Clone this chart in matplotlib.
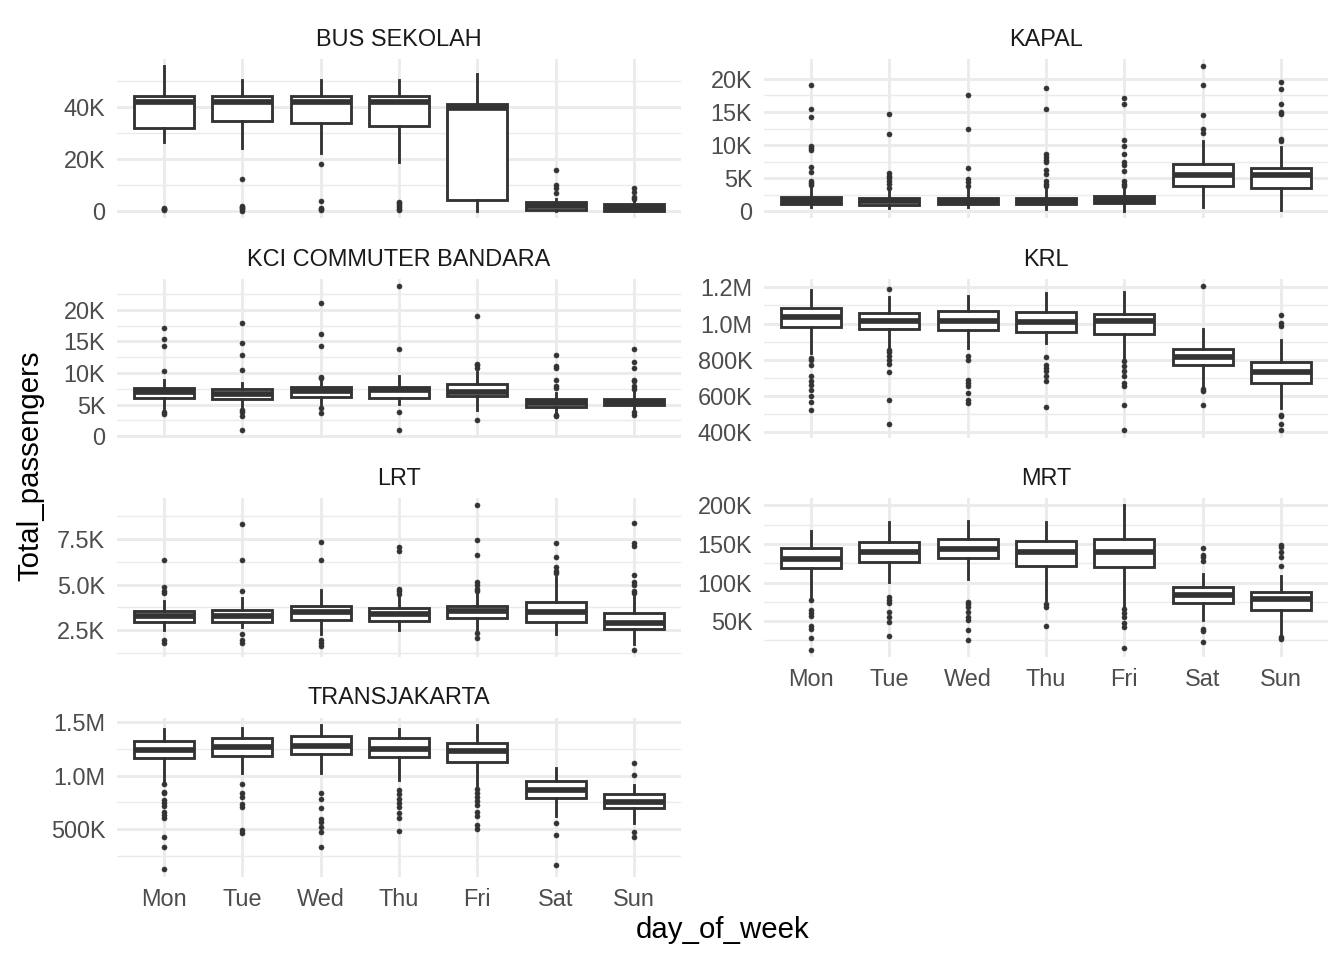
import matplotlib
matplotlib.use('Agg')
import matplotlib.pyplot as plt
from matplotlib.transforms import offset_copy

plt.rcParams['font.family'] = ['Liberation Sans', 'DejaVu Sans']

days = ['Mon', 'Tue', 'Wed', 'Thu', 'Fri', 'Sat', 'Sun']

# all values in thousands of passengers
# per day: (whisker low, q1, median, q3, whisker high)
bus_stats = [(26.7, 32.1, 41.9, 44.5, 55.9), (24.4, 34.7, 41.9, 44.5, 50.6),
             (22.5, 34.1, 41.9, 44.4, 50.6), (18.7, 32.9, 42.0, 44.3, 50.6),
             (0.0, 4.0, 39.6, 41.4, 52.8), (0.0, 0.4, 1.8, 3.2, 4.5),
             (0.0, 0.1, 1.2, 2.6, 3.9)]
bus_out = [[0.2, 0.5, 0.8, 1.2], [0.1, 0.5, 1.0, 1.5, 2.0, 12.4],
           [0.3, 0.8, 1.2, 3.6, 18.1], [0.2, 0.8, 1.5, 2.2, 3.0, 3.5],
           [], [6.7, 8.9, 10.1, 15.7], [4.5, 5.2, 7.4, 9.0]]

kapal_stats = [(0.6, 1.1, 1.6, 2.2, 3.7), (0.5, 0.95, 1.5, 2.0, 3.4),
               (0.6, 1.05, 1.6, 2.05, 3.4), (0.3, 1.05, 1.6, 2.1, 3.6),
               (0.1, 1.2, 1.8, 2.35, 3.8), (0.7, 3.85, 5.45, 7.1, 10.6),
               (0.25, 3.6, 5.45, 6.55, 9.75)]
kapal_out = [[4.0, 4.3, 4.6, 6.0, 6.7, 9.2, 9.5, 9.8, 14.2, 15.4, 19.1],
             [3.6, 4.1, 4.6, 5.0, 5.4, 5.8, 11.7, 14.7],
             [3.9, 4.4, 4.9, 6.6, 12.5, 17.6],
             [3.8, 4.2, 4.6, 5.6, 6.3, 7.4, 7.8, 8.2, 8.6, 15.5, 18.6],
             [3.85, 4.1, 4.6, 6.1, 7.0, 7.4, 8.6, 9.9, 10.7, 16.2, 17.1],
             [11.9, 12.5, 14.6, 19.0, 21.9],
             [10.6, 10.85, 14.7, 14.95, 16.25, 18.5, 19.5]]

kci_stats = [(4.2, 6.05, 7.0, 7.7, 8.9), (4.5, 5.9, 6.7, 7.4, 8.5),
             (4.7, 6.2, 7.2, 7.8, 8.8), (5.1, 6.1, 7.25, 7.85, 9.6),
             (4.2, 6.35, 6.95, 8.2, 10.1), (3.7, 4.6, 5.25, 5.9, 6.8),
             (4.2, 4.9, 5.4, 5.95, 7.1)]
kci_out = [[3.5, 3.8, 10.3, 14.2, 15.4, 17.1],
           [1.05, 3.2, 3.8, 4.2, 10.5, 12.9, 14.8, 17.9],
           [3.7, 4.5, 9.2, 9.4, 14.3, 16.2, 21.05],
           [0.95, 3.9, 13.8, 23.8],
           [2.5, 10.8, 11.2, 11.5, 19.0],
           [3.2, 3.4, 7.6, 7.9, 8.95, 10.8, 11.05, 12.9],
           [3.4, 3.8, 7.5, 7.9, 8.7, 8.95, 10.8, 11.8, 13.8]]

krl_stats = [(838, 979, 1036, 1086, 1187), (871, 970, 1016, 1058, 1147),
             (865, 963, 1016, 1068, 1154), (893, 955, 1007, 1062, 1169),
             (810, 944, 1012, 1055, 1174), (645, 770, 816, 860, 970),
             (534, 672, 731, 788, 911)]
krl_out = [[521, 566, 599, 635, 663, 681, 713, 773, 797, 810],
           [448, 580, 735, 779, 801, 823, 841, 856, 1193],
           [562, 580, 617, 654, 672, 691, 797, 823],
           [540, 681, 709, 737, 755, 773, 816],
           [411, 553, 654, 672, 709, 737, 768, 792],
           [553, 626, 639, 1209],
           [411, 448, 488, 497, 988, 1003, 1049]]

lrt_stats = [(2.48, 2.92, 3.25, 3.54, 4.09), (2.66, 2.92, 3.3, 3.6, 4.27),
             (2.3, 3.03, 3.49, 3.83, 4.71), (2.52, 3.01, 3.38, 3.74, 4.4),
             (2.48, 3.18, 3.54, 3.83, 4.49), (2.26, 2.96, 3.49, 4.03, 5.44),
             (1.75, 2.55, 2.88, 3.45, 4.4)]
lrt_out = [[1.81, 1.93, 4.54, 4.67, 4.85, 6.37],
           [1.81, 1.93, 2.26, 4.64, 6.37, 8.32],
           [1.61, 1.79, 1.97, 6.37, 7.35],
           [4.49, 4.64, 4.76, 6.86, 7.04],
           [2.08, 2.34, 4.64, 4.76, 5.0, 5.13, 6.62, 7.45, 9.36],
           [5.64, 5.77, 5.95, 6.53, 7.26],
           [1.42, 4.53, 4.67, 5.0, 5.13, 5.55, 7.14, 7.26, 8.36]]

mrt_stats = [(81, 119, 131, 145, 167), (101, 127, 140, 153, 178),
             (105, 132, 143, 156, 179), (77, 121, 139, 154, 178),
             (68, 120, 140, 156, 200), (51, 73, 84, 94, 111),
             (34, 65, 79, 88, 109)]
mrt_out = [[13, 28, 40, 44, 57, 60, 64, 77],
           [31, 49, 56, 62, 73, 77, 81],
           [25, 39, 51, 55, 62, 68, 72, 75],
           [44, 68, 72],
           [15, 43, 47, 55, 60, 66],
           [23, 37, 40, 128, 133, 136, 145],
           [27, 30, 121, 133, 139, 146, 149]]

tj_stats = [(938, 1166, 1244, 1325, 1438), (1022, 1188, 1272, 1356, 1444),
            (1022, 1206, 1278, 1372, 1475), (959, 1172, 1250, 1350, 1438),
            (897, 1131, 1228, 1306, 1478), (625, 791, 869, 947, 1072),
            (553, 694, 750, 828, 916)]
tj_out = [[122, 334, 422, 603, 631, 656, 719, 741, 772, 834, 850, 922],
          [459, 491, 709, 734, 797, 834, 922],
          [334, 469, 516, 562, 594, 697, 781, 834],
          [478, 603, 647, 709, 741, 781, 828, 866],
          [500, 541, 625, 656, 728, 766, 803, 834, 875],
          [166, 447, 553],
          [422, 469, 1009, 1116]]

# y-axis breaks (thousands) and labels
bus_ticks, bus_labels, bus_minor = [0, 20, 40], ['0', '20K', '40K'], [10, 30, 50]
kapal_ticks, kapal_labels, kapal_minor = [0, 5, 10, 15, 20], ['0', '5K', '10K', '15K', '20K'], [2.5, 7.5, 12.5, 17.5]
kci_ticks, kci_labels, kci_minor = [0, 5, 10, 15, 20], ['0', '5K', '10K', '15K', '20K'], [2.5, 7.5, 12.5, 17.5, 22.5]
krl_ticks, krl_labels, krl_minor = [400, 600, 800, 1000, 1200], ['400K', '600K', '800K', '1.0M', '1.2M'], [500, 700, 900, 1100]
lrt_ticks, lrt_labels, lrt_minor = [2.5, 5.0, 7.5], ['2.5K', '5.0K', '7.5K'], [1.25, 3.75, 6.25, 8.75]
mrt_ticks, mrt_labels, mrt_minor = [50, 100, 150, 200], ['50K', '100K', '150K', '200K'], [25, 75, 125, 175]
tj_ticks, tj_labels, tj_minor = [500, 1000, 1500], ['500K', '1.0M', '1.5M'], [250, 750, 1250]

panels = [
    ('BUS SEKOLAH', bus_stats, bus_out, bus_ticks, bus_labels, bus_minor, 0, 0, False),
    ('KAPAL', kapal_stats, kapal_out, kapal_ticks, kapal_labels, kapal_minor, 1, 0, False),
    ('KCI COMMUTER BANDARA', kci_stats, kci_out, kci_ticks, kci_labels, kci_minor, 0, 1, False),
    ('KRL', krl_stats, krl_out, krl_ticks, krl_labels, krl_minor, 1, 1, False),
    ('LRT', lrt_stats, lrt_out, lrt_ticks, lrt_labels, lrt_minor, 0, 2, False),
    ('MRT', mrt_stats, mrt_out, mrt_ticks, mrt_labels, mrt_minor, 1, 2, True),
    ('TRANSJAKARTA', tj_stats, tj_out, tj_ticks, tj_labels, tj_minor, 0, 3, True),
]

W, H = 1344, 960
fig = plt.figure(figsize=(7, 5), dpi=192)
col_x = [(117, 681), (764, 1328)]
row_top = [59, 278.5, 498, 717.5]
ph = 159

grid_c = '#EBEBEB'
box_c = '#333333'
lw_box = 1.07

for title, stats, outs, ticks, labels, minor, col, row, show_x in panels:
    x0, x1 = col_x[col]
    top = row_top[row]
    ax = fig.add_axes([x0 / W, 1 - (top + ph) / H, (x1 - x0) / W, ph / H])
    bx = []
    for (lo, q1, med, q3, hi), fl in zip(stats, outs):
        bx.append(dict(whislo=lo, q1=q1, med=med, q3=q3, whishi=hi, fliers=fl))
    ax.bxp(bx, positions=range(len(days)), widths=0.77, showcaps=False,
           patch_artist=True,
           boxprops=dict(facecolor='white', edgecolor=box_c, linewidth=lw_box),
           whiskerprops=dict(color=box_c, linewidth=lw_box),
           medianprops=dict(color=box_c, linewidth=2.13, solid_capstyle='butt'),
           flierprops=dict(marker='o', markersize=1.9, markerfacecolor=box_c,
                           markeredgecolor=box_c, markeredgewidth=0.2))
    allv = [v for s in stats for v in (s[0], s[4])] + [v for o in outs for v in o]
    lo, hi = min(allv), max(allv)
    pad = 0.05 * (hi - lo)
    ax.set_ylim(lo - pad, hi + pad)
    ax.set_xlim(-0.6, len(days) - 0.4)
    ax.set_axisbelow(True)
    for m in minor:
        ax.axhline(m, color=grid_c, linewidth=0.53, zorder=0)
    for t in ticks:
        ax.axhline(t, color=grid_c, linewidth=1.07, zorder=0)
    for i in range(len(days)):
        ax.axvline(i, color=grid_c, linewidth=1.07, zorder=0)
    ax.set_yticks(ticks)
    ax.set_yticklabels(labels)
    ax.set_xticks(range(len(days)))
    ax.set_xticklabels(days if show_x else [])
    ax.tick_params(axis='both', length=0, labelsize=8.8, labelcolor='#4D4D4D')
    ax.tick_params(axis='y', pad=4.4)
    ax.tick_params(axis='x', pad=4.2)
    for s in ax.spines.values():
        s.set_visible(False)
    ax.set_facecolor('none')
    trans = offset_copy(ax.transAxes, fig=fig, x=0, y=19.5 * 72 / 192, units='points')
    ax.text(0.5, 1.0, title, transform=trans, ha='center', va='center',
            fontsize=8.8, color='#1A1A1A')

fig.text(30 / W, 1 - 466 / H, 'Total_passengers', rotation=90, ha='center', va='center',
         fontsize=11, color='black')
fig.text(722.5 / W, 1 - 930 / H, 'day_of_week', ha='center', va='center',
         fontsize=11, color='black')

fig.savefig('out.png', dpi=192, facecolor='white')
